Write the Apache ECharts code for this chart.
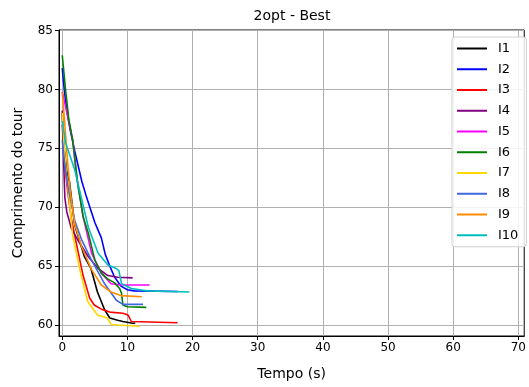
<!DOCTYPE html>
<html>
<head>
<meta charset="utf-8">
<script src="https://cdn.jsdelivr.net/npm/echarts@6/dist/echarts.min.js"></script>
<style>html,body{margin:0;padding:0;background:#fff;}#c{width:529px;height:387px;}</style>
</head>
<body>
<div id="c"></div>
<script>
const names = ['I1','I2','I3','I4','I5','I6','I7','I8','I9','I10'];
const colors = ['#000000','#0000ff','#ff0000','#800080','#ff00ff','#008000','#ffd700','#4169e1','#ff8c00','#00bfbf'];
const xTicks = [0,10,20,30,40,50,60,70];
const yTicks = [60,65,70,75,80,85];

const I1 = [[0,78],[0.3,75],[0.7,73],[1.1,72.2],[1.9,68.5],[2.4,67.6],[3.4,65.8],[4.4,64.8],[5.4,62.8],[6.5,61.3],[7.3,60.6],[8.5,60.4],[9.3,60.3],[10.8,60.15],[11.2,60.15]];
const I2 = [[0,81.8],[0.3,80],[0.7,78.2],[1.2,76.6],[1.9,74.8],[3,72.2],[3.7,70.9],[5,68.7],[6,67.4],[6.6,66],[7.3,65],[8,64.1],[9,63.3],[10,63.0],[11,62.9],[17.7,62.85]];
const I3 = [[0,77],[0.3,74],[0.8,71.5],[1.4,69],[2.1,67.1],[3.2,64.2],[4.2,62.3],[4.9,61.7],[6,61.35],[7.3,61.1],[9.3,61],[10.1,60.85],[10.6,60.3],[17.7,60.2]];
const I4 = [[0,78.2],[0.2,74],[0.4,70.8],[0.7,69.6],[1.4,68.2],[2.4,67.2],[4,65.8],[5.5,64.8],[7,64.2],[8.5,64.05],[10.8,64.0]];
const I5 = [[0,79.8],[0.6,78.3],[1.6,75.7],[2.2,72.6],[3.2,69.2],[4.5,66.1],[6,64.4],[7.5,63.5],[9,63.4],[13.4,63.4]];
const I6 = [[0,82.9],[0.5,80],[1,77.5],[1.6,75.7],[2.4,71.9],[3.2,69.2],[4,67.8],[5,65.5],[6,64.4],[7,63.9],[8,63.6],[8.8,63.1],[9.1,62.7],[9.3,61.7],[10,61.55],[12.9,61.5]];
const I7 = [[0,78],[0.3,75],[0.7,72.5],[1.1,70.5],[1.6,67.6],[2.9,64.2],[3.9,62],[5.4,60.85],[6.9,60.6],[7.5,60.05],[8.5,60],[11.9,59.9]];
const I8 = [[0,75.7],[0.3,74],[0.9,71.7],[1.9,68.9],[3,67.2],[4.5,65.5],[6.5,63.5],[8.3,62.1],[9.3,61.75],[12.4,61.75]];
const I9 = [[0,79.8],[0.4,77],[0.8,74],[1.2,71.5],[1.9,68.6],[3,66.6],[4.5,64.7],[6,63.4],[7.5,62.8],[9,62.5],[12.2,62.4]];
const I10 = [[0,77.3],[0.5,75.5],[1.9,73.2],[4,68.3],[5.5,66.1],[7,65.1],[8.3,64.8],[8.7,64.6],[9.1,63.5],[10.6,63.1],[13,62.9],[19.5,62.8]];
const allData = [I1,I2,I3,I4,I5,I6,I7,I8,I9,I10];

const chart = echarts.init(document.getElementById('c'), null, {renderer:'canvas'});
const font = 'DejaVu Sans';
chart.setOption({
  animation: false,
  backgroundColor: '#fff',
  textStyle: {fontFamily: font},
  graphic: [{
    type: 'text', x: 292, y: 16,
    style: {text: '2opt - Best', fontSize: 14, fontFamily: font, fill: '#000',
            align: 'center', verticalAlign: 'middle', textAlign: 'center', textVerticalAlign: 'middle'}
  }],
  grid: {left: 59, right: 3, top: 30, bottom: 51, containLabel: false,
         show: true, borderColor: '#000', borderWidth: 1},
  xAxis: {
    type: 'value', min: -0.5, max: 70.9,
    name: 'Tempo (s)', nameLocation: 'middle', nameGap: 31,
    nameTextStyle: {fontSize: 14, color: '#000', fontFamily: font},
    axisLine: {show: true, onZero: false, lineStyle: {color: '#000', width: 1}},
    axisTick: {show: true, inside: false, length: 4, customValues: xTicks, lineStyle: {color: '#000'}},
    axisLabel: {customValues: xTicks, fontSize: 12, color: '#000', margin: 6, fontFamily: font},
    splitLine: {show: true, lineStyle: {color: '#b0b0b0', width: 1}}
  },
  yAxis: {
    type: 'value', min: 59.07, max: 85.04,
    name: 'Comprimento do tour', nameLocation: 'middle', nameGap: 34,
    nameTextStyle: {fontSize: 14, color: '#000', fontFamily: font},
    axisLine: {show: true, onZero: false, lineStyle: {color: '#000', width: 1}},
    axisTick: {show: true, inside: false, length: 4, customValues: yTicks, lineStyle: {color: '#000'}},
    axisLabel: {customValues: yTicks, fontSize: 12, color: '#000', margin: 6, fontFamily: font},
    splitLine: {show: true, lineStyle: {color: '#b0b0b0', width: 1}}
  },
  legend: {
    orient: 'vertical', left: 452, top: 37,
    padding: [4, 8, 4, 5],
    backgroundColor: 'rgba(255,255,255,0.85)',
    borderColor: '#d0d0d0', borderWidth: 1, borderRadius: 3,
    itemWidth: 30, itemHeight: 2, itemGap: 5.75,
    icon: 'rect',
    textStyle: {fontSize: 13, color: '#000', lineHeight: 15, fontFamily: font, padding: [0,0,0,6]},
    data: names
  },
  series: names.map((n, i) => ({
    name: n, type: 'line', data: allData[i], showSymbol: false, symbol: 'none',
    color: colors[i],
    lineStyle: {width: 1.6, color: colors[i]},
    itemStyle: {color: colors[i]},
    z: 2 + i
  }))
});
</script>
</body>
</html>
